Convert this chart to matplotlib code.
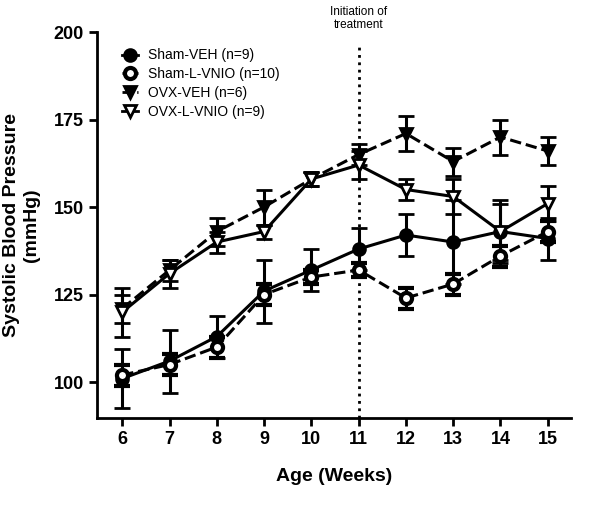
import numpy as np
import matplotlib
matplotlib.use("Agg")
from matplotlib import pyplot as plt
from matplotlib.lines import Line2D

plt.rcParams['font.family'] = ['Liberation Sans', 'DejaVu Sans']

# %% Data ------------------------------------------------------------------------------------------------------------
weeks = [6, 7, 8, 9, 10, 11, 12, 13, 14, 15]

sham_veh = [101, 106, 113, 126, 132, 138, 142, 140, 143, 141]
sham_veh_err = [8.5, 9, 6, 9, 6, 6, 6, 12, 9, 6]

sham_lvnio = [102, 105, 110, 125, 130, 132, 124, 128, 136, 143]
sham_lvnio_err = [3, 3, 3, 3, 2, 2, 3, 3, 3, 3]

ovx_veh = [121, 132, 143, 150, 158, 165, 171, 163, 170, 166]
ovx_veh_err = [4, 3, 4, 5, 2, 3, 5, 4, 5, 4]

ovx_lvnio = [120, 131, 140, 143, 158, 162, 155, 153, 143, 151]
ovx_lvnio_err = [7, 4, 3, 2, 2, 4, 3, 5, 8, 5]

labels = ["Sham-VEH (n=9)", "Sham-L-VNIO (n=10)", "OVX-VEH (n=6)", "OVX-L-VNIO (n=9)"]

# %% Plot ------------------------------------------------------------------------------------------------------------
fig = plt.figure(figsize=(6.04, 5.08), dpi=100)
ax = fig.add_axes([0.161, 0.177, 0.785, 0.76])

common = dict(color="black", lw=2.2, elinewidth=2.2, capsize=6, capthick=2.2)
styles = [
    dict(marker="o", ls="-", mfc="black", ms=8.5, mew=2),
    dict(marker="o", ls="--", mfc="white", ms=8, mew=3),
    dict(marker="v", ls="--", mfc="black", ms=9, mew=2),
    dict(marker="v", ls="-", mfc="white", ms=9, mew=2),
]
series = [(sham_veh, sham_veh_err), (sham_lvnio, sham_lvnio_err),
          (ovx_veh, ovx_veh_err), (ovx_lvnio, ovx_lvnio_err)]
for (vals, errs), st in zip(series, styles):
    ax.errorbar(weeks, vals, yerr=errs, **st, **common)

ax.axvline(11, ymax=0.97, color="black", ls=":", lw=2)
ax.text(11, 200.2, "Initiation of\ntreatment", ha="center", va="bottom", fontsize=8.5)

ax.set_xlim(5.47, 15.5)
ax.set_ylim(89.7, 200)
ax.set_xticks(weeks)
ax.set_yticks([100, 125, 150, 175, 200])
for lab in ax.get_xticklabels() + ax.get_yticklabels():
    lab.set_fontweight("bold")
ax.tick_params(labelsize=13, width=2, length=6)
ax.spines["top"].set_visible(False)
ax.spines["right"].set_visible(False)
ax.spines["left"].set_linewidth(2)
ax.spines["bottom"].set_linewidth(2)

ax.set_xlabel("Age (Weeks)", fontsize=14, fontweight="bold", labelpad=14)
ax.set_ylabel("Systolic Blood Pressure\n(mmHg)", fontsize=14, fontweight="bold", labelpad=10)

handles = [Line2D([], [], color="black", lw=2, **st) for st in styles]
ax.legend(handles, labels, loc="upper left", bbox_to_anchor=(0.025, 0.99), frameon=False, fontsize=10,
          handlelength=1.2, handletextpad=0.7, labelspacing=0.35)

fig.savefig("out.png", dpi=100)
